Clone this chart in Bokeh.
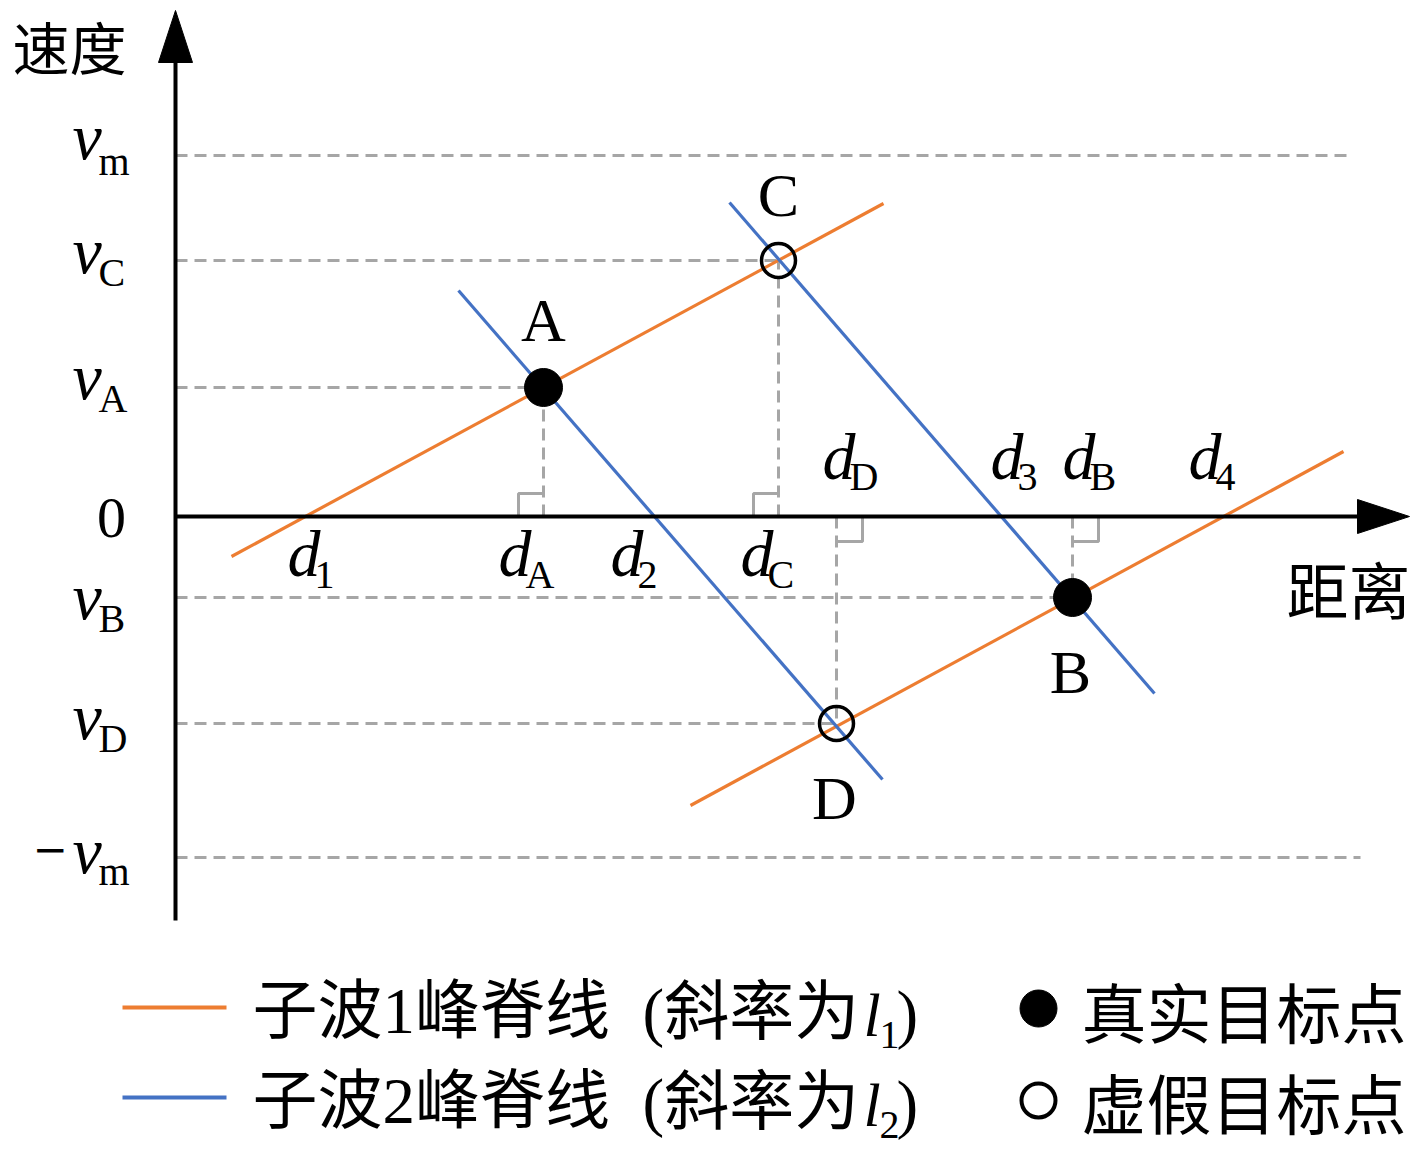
from bokeh.plotting import figure
from bokeh.models import Range1d, ColumnDataSource
from bokeh.core.properties import value
from bokeh.embed import file_html
from bokeh.resources import INLINE

# ---------------- data (chart units; origin where the two axes cross) ----------------
speed_ticks = ["m", "C", "A", "B", "D", "m"]
speed_signs = ["", "", "", "", "", "−"]
speed_levels = [361, 256, 129, -81, -207, -341]
speed_guide_end = [1172, 603, 368, 897, 661, 1185]

target_names = ["A", "B", "C", "D"]
target_dist = [368, 897, 603, 661]
target_speed = [129, -81, 256, -207]
target_real = [True, True, False, False]

ridge1_x = [[56, 708], [515, 1168]]      # sub-wave 1 ridge lines (slope l1)
ridge1_y = [[-40, 313], [-289, 65]]
ridge2_x = [[283, 707], [554, 979]]      # sub-wave 2 ridge lines (slope l2)
ridge2_y = [[226, -263], [314, -177]]

dist_ticks = ["1", "A", "2", "C", "D", "3", "B", "4"]

y_title = "速度"
x_title = "距离"
legend_ridge = ["子波1峰脊线", "子波2峰脊线"]
legend_ridge_sub = ["1", "2"]
legend_target = ["真实目标点", "虚假目标点"]

# ---------------- layout / style ----------------
ORANGE = "#ED7D31"
BLUE = "#4472C4"
GRAY = "#A6A6A6"
SERIF = value("Liberation Serif, Noto Sans CJK SC")
CJK = value("Noto Sans CJK SC")

W, H = 1416, 1152
X_MIN, Y_MAX = -175, 516
AX_Y_BOTTOM, AX_Y_TOP, AX_X_RIGHT = -404, 506, 1234
HEAD_LEN, HEAD_HALF = 52, 17

v_off = [3, 12, 11, 21, 15, 15]          # baseline of "v" below its level
sub_off = [20, 26, 25, 35, 29, 28]       # baseline of subscript below its level
MID = 0.34                               # em fraction from baseline to text middle
dist_label_x = [112, 323, 435, 565, 647, 815, 887, 1013]
dist_label_above = [False, False, False, False, True, True, True, True]
target_label_dx = [0, -2, 0, -2]
target_label_dy = [68, -74, 66, -74]

p = figure(width=W, height=H, x_range=Range1d(X_MIN, X_MIN + W),
           y_range=Range1d(Y_MAX - H, Y_MAX), x_axis_type=None, y_axis_type=None,
           toolbar_location=None, output_backend="svg", min_border=0)
p.grid.visible = False
p.outline_line_color = None
p.background_fill_color = "white"

# dashed guide lines
p.segment(x0=[0] * len(speed_levels), y0=speed_levels, x1=speed_guide_end, y1=speed_levels,
          line_color=GRAY, line_width=3, line_dash="12 7")
p.segment(x0=target_dist, y0=[0] * len(target_dist), x1=target_dist, y1=target_speed,
          line_color=GRAY, line_width=3, line_dash="12 7")

# right-angle markers
RA = 25
ra_xs, ra_ys = [], []
for d, s in zip(target_dist, target_speed):
    if s > 0:
        ra_xs.append([d - RA, d - RA, d]); ra_ys.append([0, RA - 2, RA - 2])
    else:
        ra_xs.append([d + RA + 1, d + RA + 1, d]); ra_ys.append([0, -RA, -RA])
p.multi_line(ra_xs, ra_ys, line_color=GRAY, line_width=3)

# ridge lines
p.multi_line(ridge1_x, ridge1_y, line_color=ORANGE, line_width=3.2)
p.multi_line(ridge2_x, ridge2_y, line_color=BLUE, line_width=3.2)

# axes with arrowheads
p.segment(x0=[0, 0], y0=[AX_Y_BOTTOM, 0], x1=[0, AX_X_RIGHT - HEAD_LEN + 2],
          y1=[AX_Y_TOP - HEAD_LEN + 2, 0], line_color="black", line_width=4)
p.patches([[-HEAD_HALF, HEAD_HALF, 0],
           [AX_X_RIGHT - HEAD_LEN, AX_X_RIGHT - HEAD_LEN, AX_X_RIGHT]],
          [[AX_Y_TOP - HEAD_LEN, AX_Y_TOP - HEAD_LEN, AX_Y_TOP],
           [HEAD_HALF, -HEAD_HALF, 0]], fill_color="black", line_color="black")

# targets
real = ColumnDataSource(dict(x=[d for d, r in zip(target_dist, target_real) if r],
                             y=[s for s, r in zip(target_speed, target_real) if r]))
fake = ColumnDataSource(dict(x=[d for d, r in zip(target_dist, target_real) if not r],
                             y=[s for s, r in zip(target_speed, target_real) if not r]))
p.scatter("x", "y", source=real, size=38, fill_color="black", line_color="black")
p.scatter("x", "y", source=fake, size=34, fill_color=None, line_color="black", line_width=3.5)

p.text(x=[d + dx for d, dx in zip(target_dist, target_label_dx)],
       y=[s + dy for s, dy in zip(target_speed, target_label_dy)], text=target_names,
       text_font=SERIF, text_font_size=value("62px"), text_align="center",
       text_baseline="middle", text_color="black")

# speed tick labels
p.text(x=[-103] * len(speed_levels),
       y=[l - o + MID * 66 for l, o in zip(speed_levels, v_off)],
       text=["v"] * len(speed_levels), text_font=SERIF, text_font_style="italic",
       text_font_size=value("66px"), text_align="left", text_baseline="middle")
p.text(x=[-77] * len(speed_levels),
       y=[l - o + MID * 40 for l, o in zip(speed_levels, sub_off)],
       text=speed_ticks, text_font=SERIF, text_font_size=value("40px"),
       text_align="left", text_baseline="middle")
signs = [(l, s) for l, s in zip(speed_levels, speed_signs) if s]
p.text(x=[-143] * len(signs), y=[l + 9 for l, s in signs], text=[s for l, s in signs],
       text_font=value("DejaVu Serif"), text_font_size=value("42px"), text_align="left",
       text_baseline="middle")
p.text(x=[-64], y=[-1], text=["0"], text_font=SERIF, text_font_size=value("58px"),
       text_align="center", text_baseline="middle")

# distance tick labels
d_y = [60 if a else -37 for a in dist_label_above]
s_y = [40 if a else -58 for a in dist_label_above]
p.text(x=dist_label_x, y=d_y, text=["d"] * len(dist_ticks), text_font=SERIF,
       text_font_style="italic", text_font_size=value("66px"), text_align="left",
       text_baseline="middle")
p.text(x=[x + 27 for x in dist_label_x], y=s_y, text=dist_ticks, text_font=SERIF,
       text_font_size=value("40px"), text_align="left", text_baseline="middle")

# axis titles
p.text(x=[-106], y=[472], text=[y_title], text_font=CJK, text_font_size=value("57px"),
       text_align="center", text_baseline="middle")
p.text(x=[1173], y=[-71], text=[x_title], text_font=CJK, text_font_size=value("62px"),
       text_align="center", text_baseline="middle")

# legend
leg_y = [-491, -581]
p.segment(x0=[-53, -53], y0=leg_y, x1=[51, 51], y1=leg_y, line_color=[ORANGE, BLUE],
          line_width=4)
mid = [-494, -584]
p.text(x=[77, 77], y=mid, text=legend_ridge, text_font=SERIF,
       text_font_size=value("65px"), text_align="left", text_baseline="middle")
p.text(x=[467, 467], y=[m - 1 for m in mid], text=["(斜率为", "(斜率为"], text_font=SERIF,
       text_font_size=value("65px"), text_align="left", text_baseline="middle")
p.text(x=[688, 688], y=[m - 4 for m in mid], text=["l", "l"], text_font=SERIF,
       text_font_style="italic", text_font_size=value("62px"), text_align="left",
       text_baseline="middle")
p.text(x=[704, 704], y=[m - 24 for m in mid], text=legend_ridge_sub, text_font=SERIF,
       text_font_size=value("40px"), text_align="left", text_baseline="middle")
p.text(x=[721, 721], y=[m - 3 for m in mid], text=[")", ")"], text_font=SERIF,
       text_font_size=value("65px"), text_align="left", text_baseline="middle")

p.scatter(x=[863], y=[-492], size=37, fill_color="black", line_color="black")
p.scatter(x=[863], y=[-584], size=34, fill_color=None, line_color="black", line_width=4)
p.text(x=[906, 906], y=[-493, -584], text=legend_target, text_font=CJK,
       text_font_size=value("65px"), text_align="left", text_baseline="middle")

open("out.html", "w").write(file_html(p, INLINE))
